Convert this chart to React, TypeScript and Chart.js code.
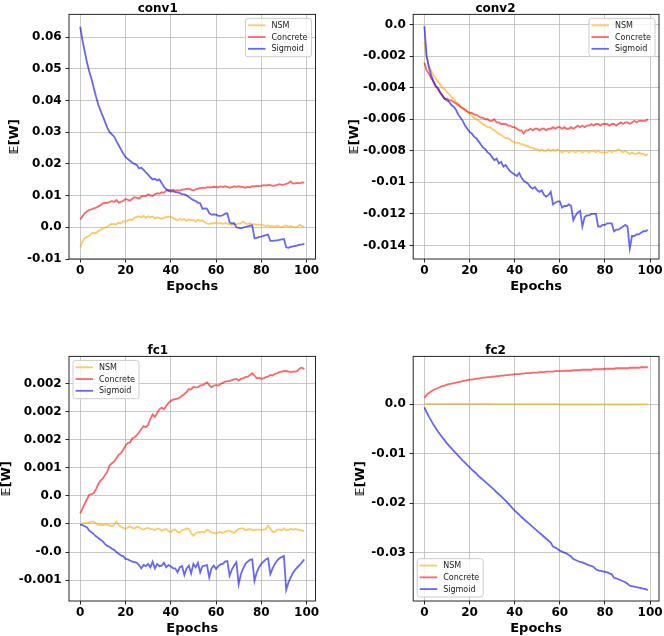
import { useEffect, useRef } from 'react';
import { Chart, registerables } from 'chart.js';

Chart.register(...registerables);

// ---- data (epochs 0..99) ----
const epochs: number[] = Array.from({ length: 100 }, (_, i) => i);
const seriesNames = ['NSM', 'Concrete', 'Sigmoid'];
const seriesColors = ['rgba(255,165,0,0.6)', 'rgba(255,0,0,0.6)', 'rgba(0,0,255,0.6)'];

const xTicks = [0, 20, 40, 60, 80, 100];
const xLabels = ['0', '20', '40', '60', '80', '100'];

// conv1
const conv1Nsm = [
    -0.0063, -0.0045, -0.0035, -0.0030, -0.0027, -0.0020, -0.0018, -0.0018, -0.0012, -0.0008,
    -0.0003, 0.0000, 0.0002, 0.0008, 0.0011, 0.0010, 0.0009, 0.0015, 0.0012, 0.0020,
    0.0018, 0.0022, 0.0025, 0.0024, 0.0030, 0.0033, 0.0034, 0.0031, 0.0036, 0.0030,
    0.0035, 0.0032, 0.0034, 0.0028, 0.0031, 0.0030, 0.0027, 0.0030, 0.0032, 0.0034,
    0.0033, 0.0030, 0.0025, 0.0022, 0.0027, 0.0024, 0.0026, 0.0020, 0.0025, 0.0022,
    0.0024, 0.0018, 0.0025, 0.0020, 0.0022, 0.0016, 0.0012, 0.0010, 0.0013, 0.0012,
    0.0015, 0.0012, 0.0014, 0.0011, 0.0013, 0.0012, 0.0010, 0.0008, 0.0011, 0.0009,
    0.0012, 0.0013, 0.0018, 0.0012, 0.0010, 0.0013, 0.0009, 0.0010, 0.0008, 0.0009,
    0.0006, 0.0007, 0.0004, 0.0006, 0.0003, 0.0004, 0.0002, 0.0005, 0.0003, 0.0001,
    0.0004, 0.0006, 0.0002, 0.0004, 0.0001, -0.0001, 0.0002, 0.0008, 0.0004, 0.0002,
];
const conv1Concrete = [
    0.0025, 0.0035, 0.0045, 0.0050, 0.0055, 0.0057, 0.0060, 0.0062, 0.0066, 0.0070,
    0.0076, 0.0078, 0.0077, 0.0080, 0.0083, 0.0080, 0.0086, 0.0078, 0.0081, 0.0083,
    0.0089, 0.0087, 0.0084, 0.0090, 0.0095, 0.0093, 0.0091, 0.0097, 0.0100, 0.0098,
    0.0104, 0.0101, 0.0099, 0.0104, 0.0108, 0.0106, 0.0111, 0.0109, 0.0116, 0.0118,
    0.0117, 0.0119, 0.0115, 0.0117, 0.0116, 0.0119, 0.0120, 0.0121, 0.0122, 0.0119,
    0.0116, 0.0120, 0.0122, 0.0124, 0.0125, 0.0124, 0.0126, 0.0127, 0.0126, 0.0128,
    0.0127, 0.0126, 0.0129, 0.0127, 0.0130, 0.0128, 0.0125, 0.0127, 0.0129, 0.0128,
    0.0130, 0.0128, 0.0127, 0.0125, 0.0128, 0.0126, 0.0130, 0.0129, 0.0131, 0.0130,
    0.0131, 0.0133, 0.0132, 0.0134, 0.0133, 0.0131, 0.0132, 0.0134, 0.0136, 0.0134,
    0.0135, 0.0137, 0.0140, 0.0145, 0.0138, 0.0139, 0.0140, 0.0139, 0.0142, 0.0141,
];
const conv1Sigmoid = [
    0.0633, 0.0590, 0.0555, 0.0520, 0.0492, 0.0468, 0.0440, 0.0412, 0.0387, 0.0368,
    0.0350, 0.0332, 0.0314, 0.0300, 0.0293, 0.0286, 0.0272, 0.0259, 0.0246, 0.0233,
    0.0222, 0.0216, 0.0210, 0.0204, 0.0200, 0.0197, 0.0186, 0.0188, 0.0181, 0.0173,
    0.0166, 0.0158, 0.0151, 0.0153, 0.0148, 0.0151, 0.0140, 0.0128, 0.0120, 0.0115,
    0.0113, 0.0114, 0.0111, 0.0110, 0.0108, 0.0105, 0.0104, 0.0101, 0.0096, 0.0090,
    0.0086, 0.0083, 0.0078, 0.0076, 0.0058, 0.0060, 0.0059, 0.0045, 0.0040, 0.0041,
    0.0040, 0.0036, 0.0036, 0.0038, 0.0043, 0.0044, 0.0016, 0.0012, 0.0013, 0.0000,
    -0.0002, -0.0003, -0.0001, 0.0001, 0.0003, 0.0005, 0.0006, -0.0035, -0.0033, -0.0031,
    -0.0029, -0.0027, -0.0025, -0.0023, -0.0043, -0.0043, -0.0042, -0.0041, -0.0040, -0.0038,
    -0.0037, -0.0063, -0.0065, -0.0062, -0.0060, -0.0059, -0.0057, -0.0055, -0.0054, -0.0052,
];
const conv1YTicks = [-0.01, 0, 0.01, 0.02, 0.03, 0.04, 0.05, 0.06];
const conv1YLabels = ['-0.01', '0.0', '0.01', '0.02', '0.03', '0.04', '0.05', '0.06'];

// conv2
const conv2Nsm = [
    -0.0011, -0.0020, -0.0026, -0.0029, -0.0032, -0.0034, -0.0036, -0.0038, -0.0040, -0.0041,
    -0.0043, -0.0044, -0.0046, -0.0047, -0.0049, -0.0050, -0.0052, -0.0053, -0.0054, -0.0055,
    -0.0056, -0.0058, -0.0059, -0.0060, -0.0061, -0.0062, -0.0063, -0.0064, -0.0065, -0.0065,
    -0.0066, -0.0067, -0.0068, -0.0069, -0.0070, -0.0071, -0.0072, -0.0072, -0.0073, -0.0074,
    -0.0075, -0.0075, -0.0075, -0.0076, -0.0076, -0.0077, -0.0077, -0.0078, -0.0078, -0.0079,
    -0.0079, -0.0080, -0.0079, -0.0080, -0.0080, -0.0079, -0.0080, -0.0079, -0.0080, -0.0079,
    -0.0080, -0.0081, -0.0080, -0.0080, -0.0081, -0.0080, -0.0080, -0.0081, -0.0080, -0.0080,
    -0.0081, -0.0080, -0.0080, -0.0081, -0.0080, -0.0080, -0.0081, -0.0080, -0.0081, -0.0081,
    -0.0081, -0.0081, -0.0080, -0.0081, -0.0080, -0.0080, -0.0079, -0.0080, -0.0081, -0.0080,
    -0.0081, -0.0082, -0.0081, -0.0082, -0.0082, -0.0081, -0.0082, -0.0082, -0.0083, -0.0082,
];
const conv2Concrete = [
    -0.0024, -0.0029, -0.0031, -0.0034, -0.0036, -0.0039, -0.0041, -0.0043, -0.0045, -0.0047,
    -0.0047, -0.0048, -0.0048, -0.0049, -0.0050, -0.0051, -0.0052, -0.0053, -0.0054, -0.0055,
    -0.0056, -0.0056, -0.0057, -0.0057, -0.0058, -0.0059, -0.0059, -0.0060, -0.0060, -0.0061,
    -0.0061, -0.0060, -0.0062, -0.0062, -0.0063, -0.0063, -0.0063, -0.0064, -0.0064, -0.0065,
    -0.0065, -0.0066, -0.0067, -0.0067, -0.0069, -0.0067, -0.0067, -0.0066, -0.0067, -0.0066,
    -0.0066, -0.0067, -0.0066, -0.0066, -0.0067, -0.0066, -0.0066, -0.0065, -0.0066, -0.0065,
    -0.0065, -0.0066, -0.0065, -0.0066, -0.0066, -0.0065, -0.0066, -0.0065, -0.0064, -0.0065,
    -0.0064, -0.0065, -0.0064, -0.0064, -0.0063, -0.0064, -0.0063, -0.0063, -0.0064, -0.0063,
    -0.0063, -0.0063, -0.0064, -0.0063, -0.0063, -0.0064, -0.0063, -0.0062, -0.0063, -0.0062,
    -0.0062, -0.0063, -0.0062, -0.0061, -0.0062, -0.0061, -0.0061, -0.0061, -0.0061, -0.0060,
];
const conv2Sigmoid = [
    -0.0001, -0.0020, -0.0027, -0.0032, -0.0036, -0.0039, -0.0040, -0.0043, -0.0045, -0.0047,
    -0.0048, -0.0049, -0.0051, -0.0052, -0.0054, -0.0057, -0.0059, -0.0061, -0.0064, -0.0066,
    -0.0068, -0.0069, -0.0071, -0.0072, -0.0074, -0.0076, -0.0078, -0.0079, -0.0081, -0.0082,
    -0.0084, -0.0086, -0.0085, -0.0088, -0.0087, -0.0090, -0.0089, -0.0091, -0.0093, -0.0094,
    -0.0095, -0.0096, -0.0094, -0.0097, -0.0099, -0.0100, -0.0101, -0.0103, -0.0104, -0.0103,
    -0.0105, -0.0106, -0.0105, -0.0108, -0.0109, -0.0108, -0.0106, -0.0114, -0.0113, -0.0112,
    -0.0112, -0.0116, -0.0115, -0.0115, -0.0114, -0.0115, -0.0124, -0.0121, -0.0119, -0.0118,
    -0.0128, -0.0122, -0.0121, -0.0121, -0.0120, -0.0120, -0.0120, -0.0128, -0.0128, -0.0127,
    -0.0127, -0.0126, -0.0126, -0.0126, -0.0131, -0.0130, -0.0130, -0.0129, -0.0128, -0.0127,
    -0.0128, -0.0142, -0.0134, -0.0134, -0.0133, -0.0133, -0.0132, -0.0131, -0.0131, -0.0130,
];
const conv2YTicks = [-0.014, -0.012, -0.01, -0.008, -0.006, -0.004, -0.002, 0];
const conv2YLabels = ['-0.014', '-0.012', '-0.01', '-0.008', '-0.006', '-0.004', '-0.002', '0.0'];

// fc1
const fc1Nsm = [
    0.00000, 0.00001, 0.00001, 0.00002, 0.00003, 0.00004, 0.00004, 0.00001, -0.00002, -0.00001,
    -0.00002, -0.00001, -0.00001, -0.00003, -0.00004, -0.00002, 0.00004, -0.00002, -0.00005, -0.00007,
    -0.00009, -0.00006, -0.00004, -0.00007, -0.00008, -0.00005, -0.00006, -0.00009, -0.00010, -0.00008,
    -0.00007, -0.00009, -0.00009, -0.00011, -0.00008, -0.00009, -0.00012, -0.00010, -0.00009, -0.00012,
    -0.00015, -0.00011, -0.00010, -0.00014, -0.00015, -0.00011, -0.00010, -0.00008, -0.00009, -0.00016,
    -0.00021, -0.00016, -0.00015, -0.00014, -0.00014, -0.00015, -0.00010, -0.00012, -0.00015, -0.00016,
    -0.00017, -0.00015, -0.00014, -0.00016, -0.00014, -0.00012, -0.00012, -0.00014, -0.00016, -0.00012,
    -0.00009, -0.00008, -0.00008, -0.00011, -0.00010, -0.00009, -0.00011, -0.00011, -0.00010, -0.00010,
    -0.00011, -0.00010, -0.00009, -0.00003, -0.00008, -0.00014, -0.00014, -0.00010, -0.00010, -0.00011,
    -0.00008, -0.00011, -0.00011, -0.00009, -0.00010, -0.00009, -0.00010, -0.00011, -0.00012, -0.00013,
];
const fc1Concrete = [
    0.00019, 0.00027, 0.00036, 0.00044, 0.00052, 0.00053, 0.00055, 0.00062, 0.00071, 0.00077,
    0.00081, 0.00087, 0.00093, 0.00104, 0.00108, 0.00111, 0.00117, 0.00123, 0.00126, 0.00132,
    0.00139, 0.00144, 0.00145, 0.00152, 0.00154, 0.00158, 0.00163, 0.00169, 0.00174, 0.00172,
    0.00176, 0.00187, 0.00195, 0.00190, 0.00198, 0.00204, 0.00207, 0.00204, 0.00210, 0.00215,
    0.00219, 0.00221, 0.00222, 0.00223, 0.00225, 0.00228, 0.00231, 0.00235, 0.00240, 0.00239,
    0.00244, 0.00243, 0.00243, 0.00246, 0.00247, 0.00249, 0.00252, 0.00247, 0.00243, 0.00246,
    0.00247, 0.00246, 0.00249, 0.00251, 0.00253, 0.00254, 0.00254, 0.00256, 0.00257, 0.00258,
    0.00255, 0.00258, 0.00259, 0.00261, 0.00262, 0.00265, 0.00268, 0.00264, 0.00259, 0.00260,
    0.00258, 0.00259, 0.00261, 0.00262, 0.00265, 0.00264, 0.00267, 0.00268, 0.00270, 0.00271,
    0.00272, 0.00272, 0.00271, 0.00270, 0.00271, 0.00271, 0.00272, 0.00277, 0.00278, 0.00275,
];
const fc1Sigmoid = [
    -0.00001, -0.00002, -0.00004, -0.00006, -0.00012, -0.00015, -0.00018, -0.00022, -0.00025, -0.00028,
    -0.00031, -0.00036, -0.00039, -0.00041, -0.00044, -0.00046, -0.00050, -0.00053, -0.00056, -0.00057,
    -0.00062, -0.00063, -0.00065, -0.00067, -0.00068, -0.00069, -0.00073, -0.00079, -0.00073, -0.00075,
    -0.00071, -0.00077, -0.00067, -0.00079, -0.00071, -0.00075, -0.00074, -0.00069, -0.00077, -0.00073,
    -0.00075, -0.00079, -0.00079, -0.00086, -0.00077, -0.00075, -0.00091, -0.00079, -0.00074, -0.00088,
    -0.00071, -0.00077, -0.00069, -0.00086, -0.00075, -0.00074, -0.00073, -0.00095, -0.00079, -0.00074,
    -0.00080, -0.00075, -0.00072, -0.00071, -0.00067, -0.00066, -0.00092, -0.00081, -0.00074, -0.00068,
    -0.00107, -0.00089, -0.00079, -0.00071, -0.00067, -0.00064, -0.00063, -0.00101, -0.00086, -0.00077,
    -0.00071, -0.00067, -0.00063, -0.00061, -0.00089, -0.00079, -0.00071, -0.00065, -0.00061, -0.00059,
    -0.00057, -0.00117, -0.00104, -0.00095, -0.00087, -0.00081, -0.00077, -0.00073, -0.00068, -0.00063,
];
const fc1YTicks = [-0.001, -0.0005, 0, 0.0005, 0.001, 0.0015, 0.002, 0.0025];
const fc1YLabels = ['-0.001', '-0.0', '0.0', '0.0', '0.001', '0.002', '0.002', '0.002'];

// fc2
const fc2Nsm = [
    0.0001, 0.0001, 0.0001, 0.0001, 0.0001, 0.0001, 0.0001, 0.0001, 0.0001, 0.0001,
    0.0001, 0.0001, 0.0001, 0.0001, 0.0001, 0.0001, 0.0001, 0.0001, 0.0001, 0.0001,
    0.0001, 0.0001, 0.0001, 0.0001, 0.0001, 0.0001, 0.0001, 0.0001, 0.0001, 0.0001,
    0.00005, 0.00005, 0.00005, 0.00005, 0.00005, 0.00005, 0.00005, 0.00005, 0.00005, 0.00005,
    0.00005, 0.00005, 0.00005, 0.00005, 0.00005, 0.00005, 0.00005, 0.00005, 0.00005, 0.00005,
    0.00005, 0.00005, 0.00005, 0.00005, 0.00005, 0.00005, 0.00005, 0.00005, 0.00005, 0.00005,
    0.0, 0.0, 0.0, 0.0, 0.0, 0.0, 0.0, 0.0, 0.0, 0.0,
    0.0, 0.0, 0.0, 0.0, 0.0, 0.0, 0.0, 0.0, 0.0, 0.0,
    0.0, 0.0, 0.0, 0.0, 0.0, 0.0, 0.0, 0.0, 0.0, 0.0,
    0.0, 0.0, 0.0, 0.0, 0.0, 0.0, 0.0, 0.0, 0.0, 0.0,
];
const fc2Concrete = [
    0.0013, 0.0019, 0.0023, 0.0026, 0.0029, 0.0031, 0.0033, 0.0035, 0.0037, 0.0038,
    0.0040, 0.0041, 0.0042, 0.0043, 0.0044, 0.0045, 0.0046, 0.0047, 0.0048, 0.0049,
    0.0050, 0.0050, 0.0051, 0.0052, 0.0052, 0.0053, 0.0054, 0.0054, 0.0055, 0.0055,
    0.0056, 0.0056, 0.0057, 0.0057, 0.0058, 0.0058, 0.0059, 0.0059, 0.0060, 0.0060,
    0.0061, 0.0061, 0.0061, 0.0062, 0.0062, 0.0063, 0.0063, 0.0063, 0.0064, 0.0064,
    0.0064, 0.0065, 0.0065, 0.0065, 0.0066, 0.0066, 0.0066, 0.0066, 0.0067, 0.0067,
    0.0067, 0.0067, 0.0068, 0.0068, 0.0068, 0.0068, 0.0069, 0.0069, 0.0069, 0.0069,
    0.0070, 0.0070, 0.0070, 0.0070, 0.0070, 0.0071, 0.0071, 0.0071, 0.0071, 0.0071,
    0.0072, 0.0072, 0.0072, 0.0072, 0.0072, 0.0073, 0.0073, 0.0073, 0.0073, 0.0073,
    0.0073, 0.0074, 0.0074, 0.0074, 0.0074, 0.0074, 0.0075, 0.0075, 0.0075, 0.0075,
];
const fc2Sigmoid = [
    -0.0006, -0.0016, -0.0025, -0.0033, -0.0041, -0.0048, -0.0055, -0.0061, -0.0067, -0.0073,
    -0.0079, -0.0084, -0.0089, -0.0094, -0.0099, -0.0104, -0.0109, -0.0114, -0.0118, -0.0123,
    -0.0127, -0.0132, -0.0136, -0.0140, -0.0145, -0.0149, -0.0153, -0.0157, -0.0161, -0.0165,
    -0.0169, -0.0173, -0.0178, -0.0182, -0.0186, -0.0191, -0.0195, -0.0200, -0.0205, -0.0210,
    -0.0215, -0.0219, -0.0223, -0.0228, -0.0232, -0.0236, -0.0240, -0.0244, -0.0248, -0.0252,
    -0.0256, -0.0260, -0.0264, -0.0268, -0.0272, -0.0276, -0.0280, -0.0288, -0.0290, -0.0293,
    -0.0296, -0.0298, -0.0300, -0.0302, -0.0305, -0.0308, -0.0313, -0.0315, -0.0317, -0.0319,
    -0.0320, -0.0322, -0.0324, -0.0326, -0.0327, -0.0329, -0.0334, -0.0336, -0.0337, -0.0338,
    -0.0339, -0.0340, -0.0342, -0.0344, -0.0351, -0.0352, -0.0354, -0.0356, -0.0358, -0.0360,
    -0.0363, -0.0367, -0.0368, -0.0369, -0.0370, -0.0371, -0.0372, -0.0373, -0.0374, -0.0376,
];
const fc2YTicks = [-0.03, -0.02, -0.01, 0];
const fc2YLabels = ['-0.03', '-0.02', '-0.01', '0.0'];

const FONT = '"DejaVu Sans", "Liberation Sans", sans-serif';
const INK = '#000000';
const SPINE = '#262626';
const GRID = 'rgba(176,176,176,0.7)';

type Corner = 'upper right' | 'upper left' | 'lower left';

interface PanelSpec {
    title: string;
    left: number;
    top: number;
    yAxisWidth: number;
    rightPad: number;
    yTitlePad: number;
    yMin: number;
    yMax: number;
    yTicks: number[];
    yLabels: string[];
    series: number[][];
    corner: Corner;
}

const panels: PanelSpec[] = [
    { title: 'conv1', left: 0, top: 0, yAxisWidth: 69, rightPad: 16.5, yTitlePad: 8.5,
      yMin: -0.0100, yMax: 0.0672, yTicks: conv1YTicks, yLabels: conv1YLabels,
      series: [conv1Nsm, conv1Concrete, conv1Sigmoid], corner: 'upper right' },
    { title: 'conv2', left: 332, top: 0, yAxisWidth: 81.2, rightPad: 5, yTitlePad: 16.3,
      yMin: -0.01486, yMax: 0.00065, yTicks: conv2YTicks, yLabels: conv2YLabels,
      series: [conv2Nsm, conv2Concrete, conv2Sigmoid], corner: 'upper right' },
    { title: 'fc1', left: 0, top: 342, yAxisWidth: 69, rightPad: 16.5, yTitlePad: 0,
      yMin: -0.00137, yMax: 0.00298, yTicks: fc1YTicks, yLabels: fc1YLabels,
      series: [fc1Nsm, fc1Concrete, fc1Sigmoid], corner: 'upper left' },
    { title: 'fc2', left: 332, top: 342, yAxisWidth: 81.2, rightPad: 5, yTitlePad: 22.2,
      yMin: -0.0398, yMax: 0.0097, yTicks: fc2YTicks, yLabels: fc2YLabels,
      series: [fc2Nsm, fc2Concrete, fc2Sigmoid], corner: 'lower left' },
];

const CANVAS_W = 332;
const CANVAS_H = 294;

// axes frame + legend drawn inside the plot area, matplotlib style
const framePlugin = {
    id: 'frameAndLegend',
    afterDatasetsDraw(chart: any, _args: any, opts: any) {
        const { ctx, chartArea: a } = chart;
        ctx.save();
        ctx.strokeStyle = SPINE;
        ctx.lineWidth = 1;
        ctx.strokeRect(a.left, a.top, a.right - a.left, a.bottom - a.top);

        ctx.font = `8px ${FONT}`;
        const textW = Math.max(...seriesNames.map((n) => ctx.measureText(n).width));
        const w = 26 + textW + 4;
        const h = 38.3;
        const gap = 4;
        const corner: Corner = opts.corner;
        const x = corner === 'upper right' ? a.right - gap - w : a.left + gap;
        const y = corner === 'lower left' ? a.bottom - gap - h : a.top + gap;

        ctx.beginPath();
        ctx.roundRect(x, y, w, h, 2.5);
        ctx.fillStyle = 'rgba(255,255,255,0.8)';
        ctx.fill();
        ctx.strokeStyle = '#cccccc';
        ctx.stroke();

        seriesNames.forEach((name, i) => {
            const ry = y + 6.9 + i * 11.75;
            ctx.beginPath();
            ctx.moveTo(x + 2.5, ry);
            ctx.lineTo(x + 20, ry);
            ctx.strokeStyle = seriesColors[i];
            ctx.lineWidth = 1.8;
            ctx.stroke();
            ctx.fillStyle = '#222222';
            ctx.textBaseline = 'middle';
            ctx.textAlign = 'left';
            ctx.fillText(name, x + 26, ry + 0.5);
        });
        ctx.restore();
    },
};

function labelFor(ticks: number[], labels: string[], value: number): string {
    const i = ticks.findIndex((t) => Math.abs(t - value) < 1e-9);
    return i >= 0 ? labels[i] : '';
}

function Panel({ spec }: { spec: PanelSpec }) {
    const canvasRef = useRef<HTMLCanvasElement>(null);

    useEffect(() => {
        if (!canvasRef.current) return;
        const tickFont = { family: FONT, size: 12, weight: 'bold' as const };
        const chart = new Chart(canvasRef.current, {
            type: 'line',
            data: {
                datasets: spec.series.map((ys, i) => ({
                    label: seriesNames[i],
                    data: ys.map((y, k) => ({ x: epochs[k], y })),
                    borderColor: seriesColors[i],
                    borderWidth: 1.8,
                    pointRadius: 0,
                    tension: 0,
                    fill: false,
                    order: 3 - i,
                })),
            },
            options: {
                animation: false,
                responsive: false,
                events: [],
                layout: { padding: { left: 0, top: 0, bottom: 0, right: spec.rightPad } },
                plugins: {
                    legend: { display: false },
                    tooltip: { enabled: false },
                    title: {
                        display: true,
                        text: spec.title,
                        color: INK,
                        font: { family: FONT, size: 12, weight: 'bold' },
                        padding: { top: 1.2, bottom: -1.2 },
                    },
                    frameAndLegend: { corner: spec.corner },
                } as any,
                scales: {
                    x: {
                        type: 'linear',
                        min: -4.95,
                        max: 103.95,
                        afterBuildTicks: (s: any) => { s.ticks = xTicks.map((v) => ({ value: v })); },
                        afterFit: (s: any) => { s.height = 35; },
                        ticks: {
                            font: tickFont,
                            color: INK,
                            padding: 1,
                            maxRotation: 0,
                            autoSkip: false,
                            callback: (v: any) => labelFor(xTicks, xLabels, Number(v)),
                        },
                        grid: { color: GRID, lineWidth: 1, tickColor: SPINE, tickLength: 3.5 },
                        border: { display: false },
                        title: {
                            display: true,
                            text: 'Epochs',
                            color: INK,
                            font: { family: FONT, size: 13, weight: 'bold' },
                            padding: 0,
                        },
                    },
                    y: {
                        type: 'linear',
                        min: spec.yMin,
                        max: spec.yMax,
                        afterBuildTicks: (s: any) => { s.ticks = spec.yTicks.map((v) => ({ value: v })); },
                        afterFit: (s: any) => { s.width = spec.yAxisWidth; },
                        ticks: {
                            font: tickFont,
                            color: INK,
                            padding: 3.8,
                            autoSkip: false,
                            callback: (v: any) => labelFor(spec.yTicks, spec.yLabels, Number(v)),
                        },
                        grid: { color: GRID, lineWidth: 1, tickColor: SPINE, tickLength: 3.5 },
                        border: { display: false },
                        title: {
                            display: true,
                            text: '𝔼[W]',
                            color: INK,
                            font: { family: FONT, size: 13, weight: 'bold', lineHeight: 1 },
                            padding: { top: spec.yTitlePad, bottom: 0 },
                        },
                    },
                },
            },
            plugins: [framePlugin],
        });
        return () => chart.destroy();
    }, [spec]);

    return (
        <canvas
            ref={canvasRef}
            width={CANVAS_W}
            height={CANVAS_H}
            style={{ position: 'absolute', left: spec.left, top: spec.top, width: CANVAS_W, height: CANVAS_H }}
        />
    );
}

export default function App() {
    return (
        <div style={{ position: 'absolute', left: 0, top: 0, width: 664, height: 636, background: '#ffffff' }}>
            {panels.map((p) => <Panel key={p.title} spec={p} />)}
        </div>
    );
}
